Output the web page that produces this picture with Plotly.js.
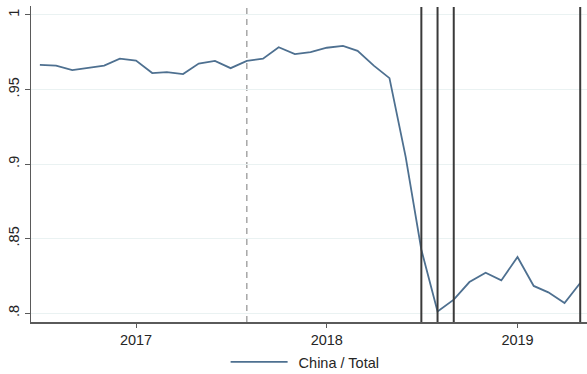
<!DOCTYPE html>
<html>
<head>
<meta charset="utf-8">
<script src="https://cdn.plot.ly/plotly-3.0.1.min.js"></script>
<style>html,body{margin:0;padding:0;background:#fff;}#chart{width:587px;height:374px;}</style>
</head>
<body>
<div id="chart"></div>
<script>
// Monthly series, 2016m7 .. 2019m5
const months = [
  "2016-07","2016-08","2016-09","2016-10","2016-11","2016-12",
  "2017-01","2017-02","2017-03","2017-04","2017-05","2017-06",
  "2017-07","2017-08","2017-09","2017-10","2017-11","2017-12",
  "2018-01","2018-02","2018-03","2018-04","2018-05","2018-06",
  "2018-07","2018-08","2018-09","2018-10","2018-11","2018-12",
  "2019-01","2019-02","2019-03","2019-04","2019-05"
];
const chinaShare = [
  0.9665, 0.9660, 0.9630, 0.9647, 0.9660, 0.9707,
  0.9694, 0.9610, 0.9616, 0.9603, 0.9674, 0.9692,
  0.9643, 0.9692, 0.9707, 0.9783, 0.9737, 0.9750,
  0.9780, 0.9792, 0.9759, 0.9660, 0.9576, 0.9048,
  0.8425, 0.8011, 0.8090, 0.8208, 0.8271, 0.8219,
  0.8376, 0.8182, 0.8139, 0.8067, 0.8202
];
const seriesName = "China / Total";
const dashedEvents = ["2017-08"];
const solidEvents = ["2018-07","2018-08","2018-09","2019-05"];
const yTickVals = [0.8, 0.85, 0.9, 0.95, 1];
const yTickText = [".8", ".85", ".9", ".95", "1"];
const xTickVals = ["2017-01","2018-01","2019-01"];
const xTickText = ["2017","2018","2019"];

const shapes = [];
dashedEvents.forEach(d => shapes.push({
  type: "line", xref: "x", yref: "paper", x0: d, x1: d, y0: 0, y1: 1,
  line: {color: "#9a9a9a", width: 1.3, dash: "6px,5px"}, layer: "below"
}));
solidEvents.forEach(d => shapes.push({
  type: "line", xref: "x", yref: "paper", x0: d, x1: d, y0: 0, y1: 0.997,
  line: {color: "#3a3a3a", width: 2}, layer: "above"
}));

const trace = {
  x: months, y: chinaShare, type: "scatter", mode: "lines",
  name: seriesName, line: {color: "#4e7090", width: 1.8},
  showlegend: true
};

const font = {family: "Liberation Sans, Arial, sans-serif", size: 14.5, color: "#262626"};

const layout = {
  width: 587, height: 374,
  margin: {l: 31, r: 0, t: 6, b: 52},
  paper_bgcolor: "#ffffff", plot_bgcolor: "#ffffff",
  font: font,
  showlegend: true,
  xaxis: {
    type: "date",
    range: ["2016-06-14", "2019-05-14"],
    tickvals: xTickVals, ticktext: xTickText,
    showgrid: false, zeroline: false,
    showline: true, linecolor: "#5a5a5a", linewidth: 1.5,
    ticks: "outside", ticklen: 4, tickwidth: 1, tickcolor: "#5a5a5a",
    tickfont: font
  },
  yaxis: {
    range: [0.794, 1.006],
    tickvals: yTickVals, ticktext: yTickText, tickangle: -90,
    showgrid: true, gridcolor: "#eaf2f2", gridwidth: 1,
    zeroline: false,
    showline: true, linecolor: "#5a5a5a", linewidth: 1.5,
    ticks: "outside", ticklen: 5, tickwidth: 1, tickcolor: "#5a5a5a",
    tickfont: font
  },
  legend: {
    orientation: "h", x: 0.493, xanchor: "center",
    yref: "container", y: 0.032, yanchor: "middle",
    font: font, bgcolor: "rgba(0,0,0,0)", itemwidth: 63
  },
  shapes: shapes
};

Plotly.newPlot("chart", [trace], layout, {displayModeBar: false, staticPlot: true}).then(gd => {
  // lengthen the legend's line sample to match the wide Stata key
  gd.querySelectorAll(".legend .legendlines path.js-line").forEach(p => p.setAttribute("d", "M5,0h57"));
});
</script>
</body>
</html>
